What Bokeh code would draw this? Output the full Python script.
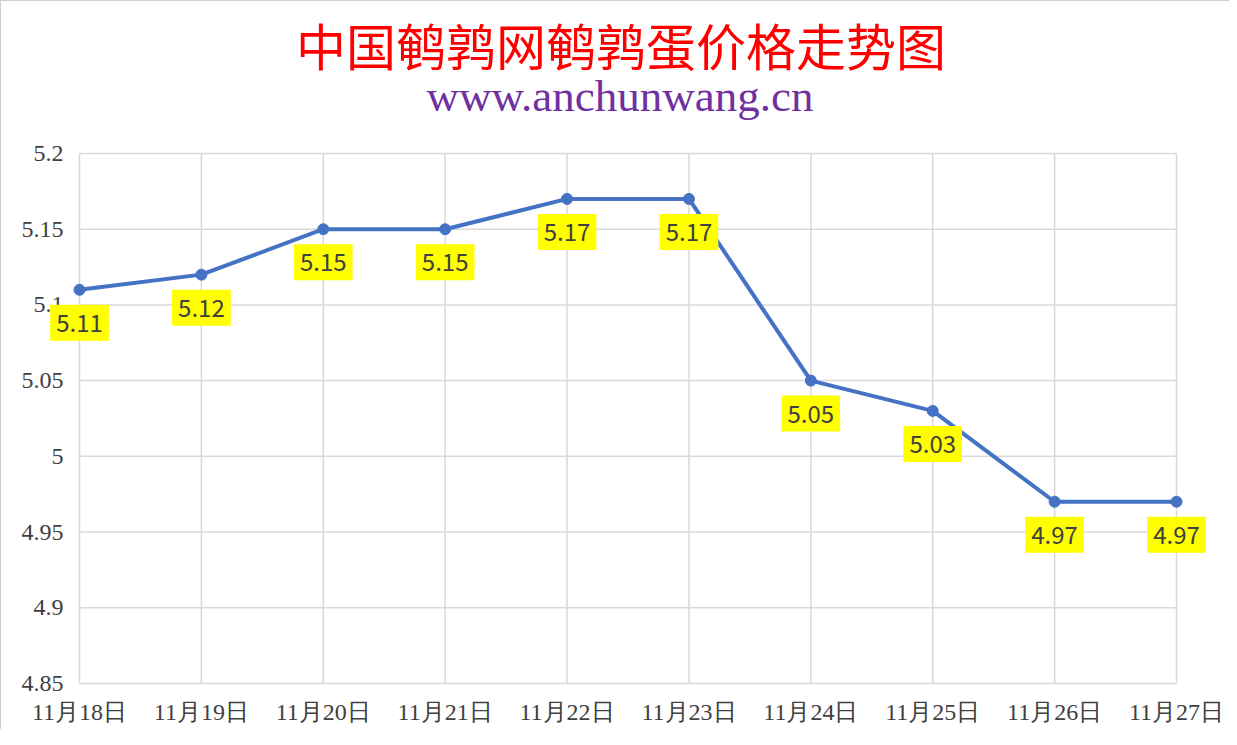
from bokeh.plotting import figure
from bokeh.models import ColumnDataSource, Label, Range1d
from bokeh.embed import file_html
from bokeh.resources import INLINE

dates = ["11月18日", "11月19日", "11月20日", "11月21日", "11月22日",
         "11月23日", "11月24日", "11月25日", "11月26日", "11月27日"]
prices = [5.11, 5.12, 5.15, 5.15, 5.17, 5.17, 5.05, 5.03, 4.97, 4.97]
y_ticks = [4.85, 4.9, 4.95, 5.0, 5.05, 5.1, 5.15, 5.2]
y_tick_labels = ["4.85", "4.9", "4.95", "5", "5.05", "5.1", "5.15", "5.2"]
title_text = "中国鹌鹑网鹌鹑蛋价格走势图"
subtitle_text = "www.anchunwang.cn"

xs = list(range(len(dates)))
src = ColumnDataSource(dict(x=xs, y=prices))
y_lo, y_hi = y_ticks[0], y_ticks[-1]
x_lo, x_hi = xs[0], xs[-1]

# frame spans the whole canvas so that labels and titles are not clipped
p = figure(width=1229, height=729, output_backend="svg", toolbar_location=None,
           x_range=Range1d(x_lo - 0.64, x_hi + 0.443),
           y_range=Range1d(y_lo - 0.0311, y_hi + 0.1004),
           min_border_left=0, min_border_right=0, min_border_top=0,
           min_border_bottom=0)
p.outline_line_color = None
p.background_fill_color = "white"
p.border_fill_color = "white"
p.xgrid.visible = False
p.ygrid.visible = False
p.xaxis.visible = False
p.yaxis.visible = False
p.styles = {"border-left": "1px solid #d0d0d0", "border-top": "1px solid #d0d0d0"}

cjk = "Noto Sans CJK SC"
grid_col = "#d9d9d9"
text_col = "#404040"

# grid lines limited to the plotting area of the original chart
p.segment(x0=xs, x1=xs, y0=[y_lo] * len(xs), y1=[y_hi] * len(xs),
          line_color=grid_col, line_width=1.5)
p.segment(x0=[x_lo] * len(y_ticks), x1=[x_hi] * len(y_ticks), y0=y_ticks, y1=y_ticks,
          line_color=grid_col, line_width=1.5)

# y tick labels
p.text(x=[x_lo] * len(y_ticks), y=y_ticks, text=y_tick_labels, x_offset=-16,
       text_align="right", text_baseline="middle", text_font=cjk,
       text_font_size="24px", text_color=text_col)

# x tick labels
p.text(x=xs, y=[y_lo] * len(xs), text=dates, y_offset=29,
       text_align="center", text_baseline="middle", text_font=cjk,
       text_font_size="24px", text_color=text_col)

p.line("x", "y", source=src, line_color="#4472C4", line_width=4)
p.scatter("x", "y", source=src, size=11, fill_color="#4472C4", line_color="#4472C4")

for xv, yv in zip(xs, prices):
    p.add_layout(Label(x=xv, y=yv, y_offset=-33, text=f"{yv:.2f}",
                       text_align="center", text_baseline="middle",
                       text_font=cjk, text_font_size="24px", text_color=text_col,
                       background_fill_color="#FFFF00", padding=(6, 9)))

mid_x = (x_lo + x_hi) / 2
p.add_layout(Label(x=mid_x, y=y_hi, x_offset=-7, y_offset=110, text=title_text,
                   text_align="center", text_baseline="middle",
                   text_font=cjk, text_font_size="50px", text_color="#FF0000"))
p.add_layout(Label(x=mid_x, y=y_hi, x_offset=-8, y_offset=58, text=subtitle_text,
                   text_align="center", text_baseline="alphabetic",
                   text_font="Liberation Serif", text_font_size="45px",
                   text_color="#7030A0"))

open("out.html", "w").write(file_html(p, INLINE))
